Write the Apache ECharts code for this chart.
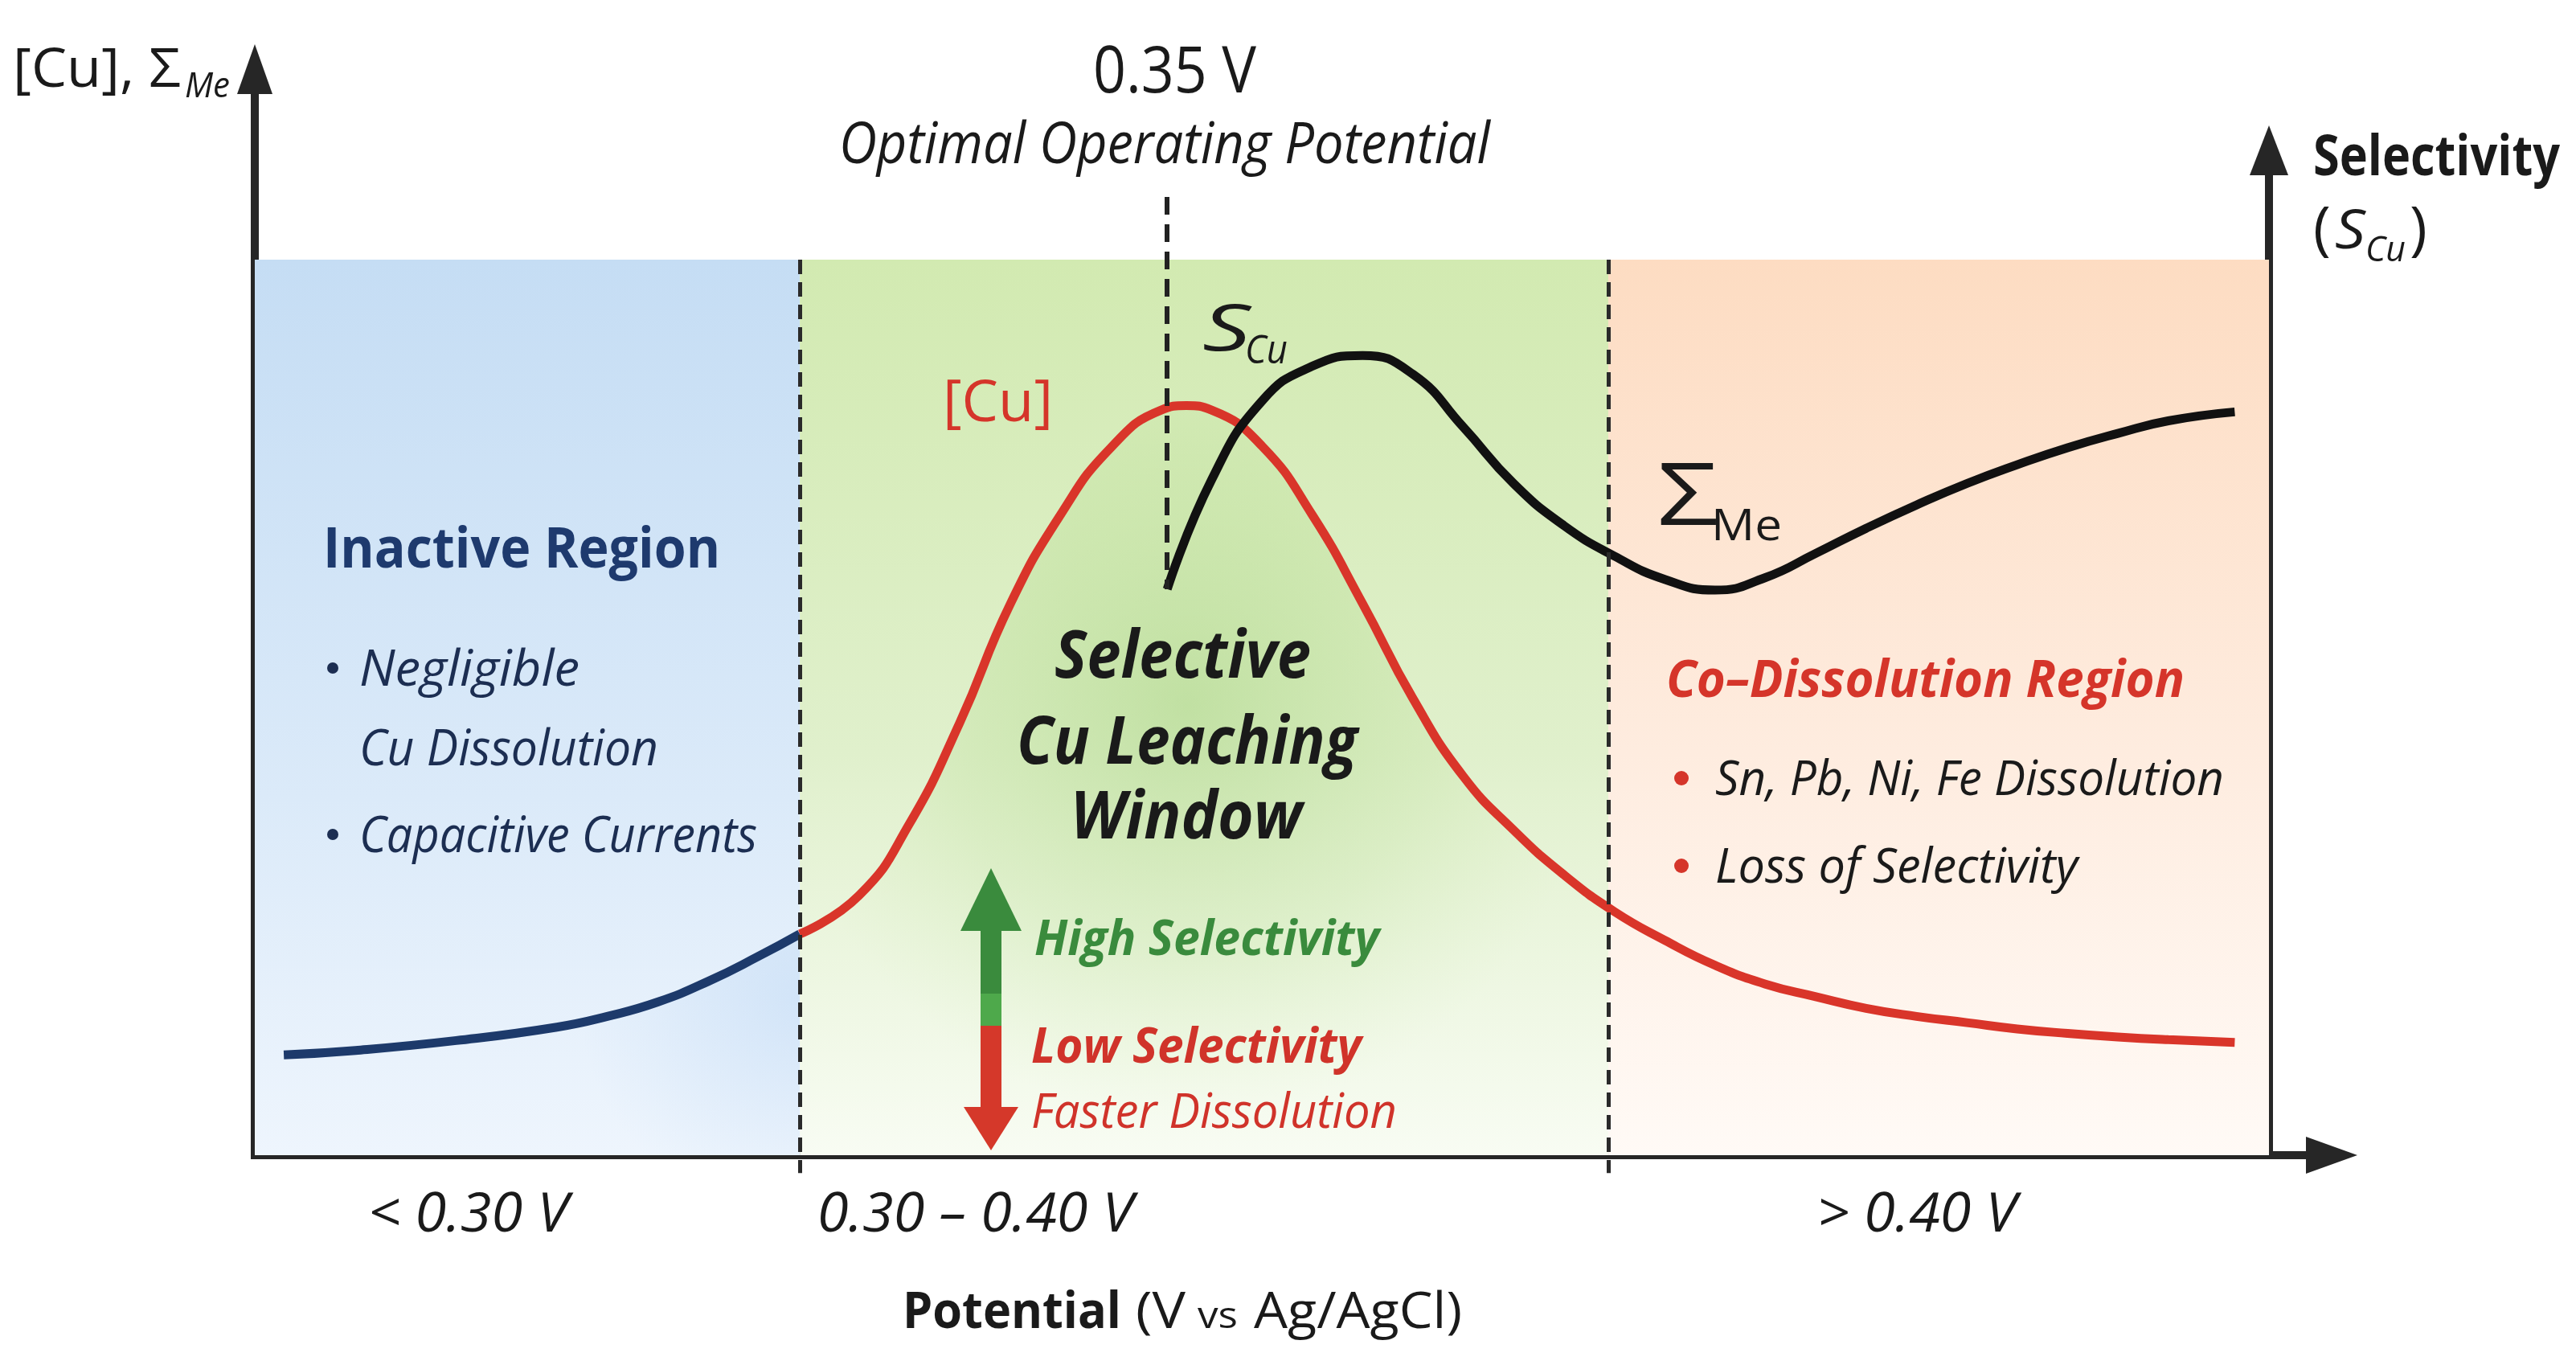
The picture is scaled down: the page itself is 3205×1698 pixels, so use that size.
<!DOCTYPE html>
<html>
<head>
<meta charset="utf-8">
<script src="https://cdn.jsdelivr.net/npm/echarts@6/dist/echarts.min.js"></script>
<style>
  html, body { margin: 0; padding: 0; background: #ffffff; }
  #chart { width: 3205px; height: 1698px; }
</style>
</head>
<body>
<div id="chart"></div>
<script>
// ---------------- DATA (schematic units: x 0..100 along potential axis, y 0..100 signal) ----------------
// region boundaries along the potential axis: start, 0.30 V, 0.40 V, end
const regionBounds = [0, 27.06, 67.2, 100];
const regionNames = ['Inactive Region', 'Selective Cu Leaching Window', 'Co–Dissolution Region'];
const rangeLabels = ['< 0.30 V', '0.30 – 0.40 V', '> 0.40 V'];
// optimal operating potential marker (0.35 V)
const optimalX = 45.3;
const optimalTop = 107;

// [Cu] curve below 0.30 V (inactive, navy)
const cuLowX = [1.44, 5, 10, 15, 17.5, 20, 22.5, 25, 27.06];
const cuLowY = [11.2, 11.7, 12.8, 14.3, 15.5, 17.1, 19.4, 22.2, 24.7];

// [Cu] curve from 0.30 V onward (red)
const cuX = [27.06, 30, 32.5, 35, 37.5, 40, 42.5, 45, 46.25, 47.5, 50, 52.5, 55, 57.5, 60, 62.5, 65, 67.5, 70, 72.5, 75, 77.5, 80, 82.5, 85, 87.5, 90, 92.5, 95, 98.3];
const cuY = [24.7, 29.0, 37.0, 48.3, 61.5, 71.5, 79.0, 83.2, 83.7, 83.2, 79.2, 71.5, 61.6, 51.0, 42.3, 36.3, 31.3, 27.2, 24.0, 21.2, 19.1, 17.7, 16.4, 15.5, 14.8, 14.1, 13.6, 13.2, 12.9, 12.6];

// S_Cu / ΣMe curve (black)
const sX = [45.3, 47.5, 50, 52.5, 55, 57.5, 60, 62.5, 65, 67.5, 70, 72.5, 75, 77.5, 80, 82.5, 85, 87.5, 90, 92.5, 95, 98.3];
const sY = [63.2, 75.4, 84.2, 88.1, 89.3, 87.2, 81.3, 75.0, 70.3, 66.9, 64.3, 63.1, 64.5, 67.2, 70.0, 72.6, 75.0, 77.1, 79.0, 80.6, 82.0, 83.0];

// ---------------- LAYOUT ----------------
const W = 3205, H = 1698;
const PX0 = 317, PX100 = 2823, PY0 = 1437, PY100 = 323;
const K = (PY0 - PY100) / 100;
const Y_MIN = -5, Y_MAX = 112;
const g0Top = PY0 - Y_MAX * K;
const g0Bottom = H - (PY0 - Y_MIN * K);

const FAM = '"Open Sans", "Noto Sans", sans-serif';
const mctx = document.createElement('canvas').getContext('2d');

function txt(s, x, base, size, o) {
  o = o || {};
  const fs = o.italic ? 'italic' : 'normal';
  const fw = o.bold ? 'bold' : 'normal';
  const font = fs + ' ' + fw + ' ' + size + 'px ' + FAM;
  mctx.font = font;
  mctx.textBaseline = 'middle';
  const w = mctx.measureText(s).width;
  const desc = mctx.measureText('H').actualBoundingBoxDescent;
  const sx = o.w ? o.w / w : 1;
  return {
    type: 'text', x: x, y: base - desc, scaleX: sx, z: 100, silent: true,
    style: {
      text: s, font: font, fill: o.color || '#1a1a1a',
      align: 'left', textAlign: 'left', verticalAlign: 'middle', textVerticalAlign: 'middle'
    }
  };
}
function dot(cx, cy, r, color) {
  return { type: 'circle', z: 100, silent: true, shape: { cx: cx, cy: cy, r: r }, style: { fill: color } };
}

const NAVY = '#1e3a6e', NAVY_T = '#1c2e52', RED = '#d5352a', GREEN = '#3a8b3d';

const graphics = [
  txt('[Cu], Σ', 16, 108, 67, { w: 209 }),
  txt('Me', 230, 121, 44, { italic: true, w: 56 }),
  txt('0.35 V', 1360, 115, 80, { w: 203 }),
  txt('Optimal Operating Potential', 1044, 203, 72, { italic: true, w: 810 }),
  txt('Selectivity', 2878, 218, 70, { bold: true, w: 307 }),
  txt('(', 2878, 309, 74, {}),
  txt('S', 2905, 309, 68, { italic: true, w: 38 }),
  txt('Cu', 2943, 325, 44, { italic: true, w: 50 }),
  txt(')', 2998, 309, 74, {}),

  txt(regionNames[0], 402, 706, 70, { bold: true, w: 494, color: NAVY }),
  dot(414, 831, 7, NAVY_T),
  txt('Negligible', 447, 853, 63, { italic: true, w: 274, color: NAVY_T }),
  txt('Cu Dissolution', 447, 952, 63, { italic: true, w: 372, color: NAVY_T }),
  dot(414, 1038, 7, NAVY_T),
  txt('Capacitive Currents', 447, 1060, 63, { italic: true, w: 495, color: NAVY_T }),

  txt('[Cu]', 1173, 524, 72, { w: 137, color: RED }),
  txt('S', 1496, 436, 80, { italic: true, w: 60 }),
  txt('Cu', 1549, 452, 50, { italic: true, w: 53 }),
  txt('Σ', 2062, 653, 108, { w: 76 }),
  txt('Me', 2129, 672, 55, { w: 88 }),

  txt('Selective', 1312, 844, 82, { bold: true, italic: true, w: 319 }),
  txt('Cu Leaching', 1265, 951, 82, { bold: true, italic: true, w: 424 }),
  txt('Window', 1332, 1044, 82, { bold: true, italic: true, w: 288 }),

  txt(regionNames[2], 2073, 867, 64, { bold: true, italic: true, w: 645, color: RED }),
  dot(2092, 968, 9, RED),
  txt('Sn, Pb, Ni, Fe Dissolution', 2134, 989, 60, { italic: true, w: 633 }),
  dot(2092, 1077, 9, RED),
  txt('Loss of Selectivity', 2134, 1098, 60, { italic: true, w: 451 }),

  // selectivity arrow
  { type: 'polygon', z: 99, silent: true, shape: { points: [[1233, 1080], [1271, 1158], [1195, 1158]] }, style: { fill: GREEN } },
  { type: 'rect', z: 99, silent: true, shape: { x: 1220, y: 1155, width: 26, height: 82 }, style: { fill: GREEN } },
  { type: 'rect', z: 99, silent: true, shape: { x: 1220, y: 1236, width: 26, height: 41 }, style: { fill: '#4ea94b' } },
  { type: 'rect', z: 99, silent: true, shape: { x: 1220, y: 1276, width: 26, height: 104 }, style: { fill: '#d5382a' } },
  { type: 'polygon', z: 99, silent: true, shape: { points: [[1199, 1377], [1267, 1377], [1233, 1431]] }, style: { fill: '#d5382a' } },
  txt('High Selectivity', 1287, 1188, 61, { bold: true, italic: true, w: 429, color: GREEN }),
  txt('Low Selectivity', 1283, 1322, 61, { bold: true, italic: true, w: 411, color: '#d0332a' }),
  txt('Faster Dissolution', 1283, 1403, 61, { italic: true, w: 455, color: '#d0332a' }),

  txt(rangeLabels[0], 458, 1532, 67, { italic: true, w: 249 }),
  txt(rangeLabels[1], 1017, 1532, 67, { italic: true, w: 393 }),
  txt(rangeLabels[2], 2261, 1532, 67, { italic: true, w: 248 }),

  txt('Potential', 1123, 1652, 63, { bold: true, w: 272 }),
  txt('(V', 1413, 1652, 63, { w: 62 }),
  txt('vs', 1490, 1652, 46, { w: 50 }),
  txt('Ag/AgCl)', 1560, 1652, 63, { w: 259 })
];

function zip(xs, ys) { return xs.map((x, i) => [x, ys[i]]); }
function vgrad(stops) {
  return { type: 'linear', x: 0, y: 0, x2: 0, y2: 1, colorStops: stops.map(s => ({ offset: s[0], color: s[1] })) };
}

const axisLineStyle = { color: '#262626', width: 10, cap: 'square' };
const hiddenBits = { axisTick: { show: false }, axisLabel: { show: false }, splitLine: { show: false } };

const option = {
  backgroundColor: '#ffffff',
  animation: false,
  grid: [
    { left: PX0, right: W - PX100, top: g0Top, bottom: g0Bottom },
    { left: PX0, right: W - 2901, top: 86, bottom: H - PY0 },
    { left: PX100, width: 10, top: 187, bottom: H - PY0 }
  ],
  xAxis: [
    { gridIndex: 0, type: 'value', min: 0, max: 100, show: false },
    Object.assign({ gridIndex: 1, type: 'value', min: 0, max: 1,
      axisLine: { show: true, onZero: false, symbol: ['none', 'triangle'], symbolSize: [46, 64], lineStyle: axisLineStyle } }, hiddenBits),
    { gridIndex: 2, type: 'value', min: 0, max: 1, show: false }
  ],
  yAxis: [
    { gridIndex: 0, type: 'value', min: Y_MIN, max: Y_MAX, show: false },
    Object.assign({ gridIndex: 1, type: 'value', min: 0, max: 1,
      axisLine: { show: true, onZero: false, symbol: ['none', 'triangle'], symbolSize: [44, 62], lineStyle: axisLineStyle } }, hiddenBits),
    Object.assign({ gridIndex: 2, type: 'value', min: 0, max: 1, position: 'left',
      axisLine: { show: true, onZero: false, symbol: ['none', 'triangle'], symbolSize: [48, 62], lineStyle: axisLineStyle } }, hiddenBits)
  ],
  graphic: graphics,
  series: [
    {
      name: 'regions', type: 'line', xAxisIndex: 0, yAxisIndex: 0, z: 1,
      data: [[regionBounds[0], 0], [regionBounds[3], 0]],
      symbol: 'none', lineStyle: { opacity: 0 }, silent: true,
      markArea: {
        silent: true,
        data: [
          [{ xAxis: regionBounds[0], yAxis: 0, itemStyle: { color: vgrad([[0, '#c5ddf4'], [0.6, '#dbeaf9'], [1, '#eef5fd']]) } }, { xAxis: regionBounds[1], yAxis: 100 }],
          [{ xAxis: regionBounds[1], yAxis: 0, itemStyle: { color: vgrad([[0, '#d2eab1'], [0.55, '#e0f0cc'], [1, '#f8fcf3']]) } }, { xAxis: regionBounds[2], yAxis: 100 }],
          [{ xAxis: regionBounds[2], yAxis: 0, itemStyle: { color: vgrad([[0, '#fddcc2'], [0.55, '#feecdf'], [1, '#fffaf6']]) } }, { xAxis: regionBounds[3], yAxis: 100 }]
        ]
      }
    },
    {
      name: '[Cu] low', type: 'line', xAxisIndex: 0, yAxisIndex: 0, z: 3,
      data: zip(cuLowX, cuLowY), smooth: 0.5, symbol: 'none', silent: true,
      lineStyle: { color: '#1d3a6b', width: 11 },
      areaStyle: { origin: 0, color: { type: 'radial', x: 1, y: 0.3, r: 1.0, colorStops: [
        { offset: 0, color: 'rgba(150,192,238,0.35)' }, { offset: 1, color: 'rgba(150,192,238,0)' }] } }
    },
    {
      name: '[Cu]', type: 'line', xAxisIndex: 0, yAxisIndex: 0, z: 3,
      data: zip(cuX, cuY), smooth: 0.5, symbol: 'none', silent: true,
      lineStyle: { color: '#d9352a', width: 11 },
      areaStyle: { origin: 0, color: { type: 'radial', x: 0.27, y: 0.4, r: 0.55, colorStops: [
        { offset: 0, color: 'rgba(145,200,100,0.55)' }, { offset: 0.6, color: 'rgba(165,212,120,0.25)' }, { offset: 1, color: 'rgba(190,225,150,0)' }] } }
    },
    {
      name: 'S_Cu', type: 'line', xAxisIndex: 0, yAxisIndex: 0, z: 3,
      data: zip(sX, sY), smooth: 0.5, symbol: 'none', silent: true,
      lineStyle: { color: '#111111', width: 11 }
    },
    {
      name: 'markers', type: 'line', xAxisIndex: 0, yAxisIndex: 0, z: 4,
      data: [[regionBounds[0], 0], [regionBounds[3], 0]],
      symbol: 'none', lineStyle: { opacity: 0 }, silent: true,
      markLine: {
        silent: true, symbol: ['none', 'none'], label: { show: false },
        lineStyle: { color: '#2a2a2a', width: 5, type: [18, 10] },
        data: [
          [{ coord: [regionBounds[1], 100] }, { coord: [regionBounds[1], -2] }],
          [{ coord: [regionBounds[2], 100] }, { coord: [regionBounds[2], -2] }],
          [{ coord: [optimalX, optimalTop], lineStyle: { width: 6, type: [22, 12], color: '#222' } }, { coord: [optimalX, sY[0]] }]
        ]
      }
    }
  ]
};

const chart = echarts.init(document.getElementById('chart'), null, { renderer: 'canvas' });
chart.setOption(option);
</script>
</body>
</html>
